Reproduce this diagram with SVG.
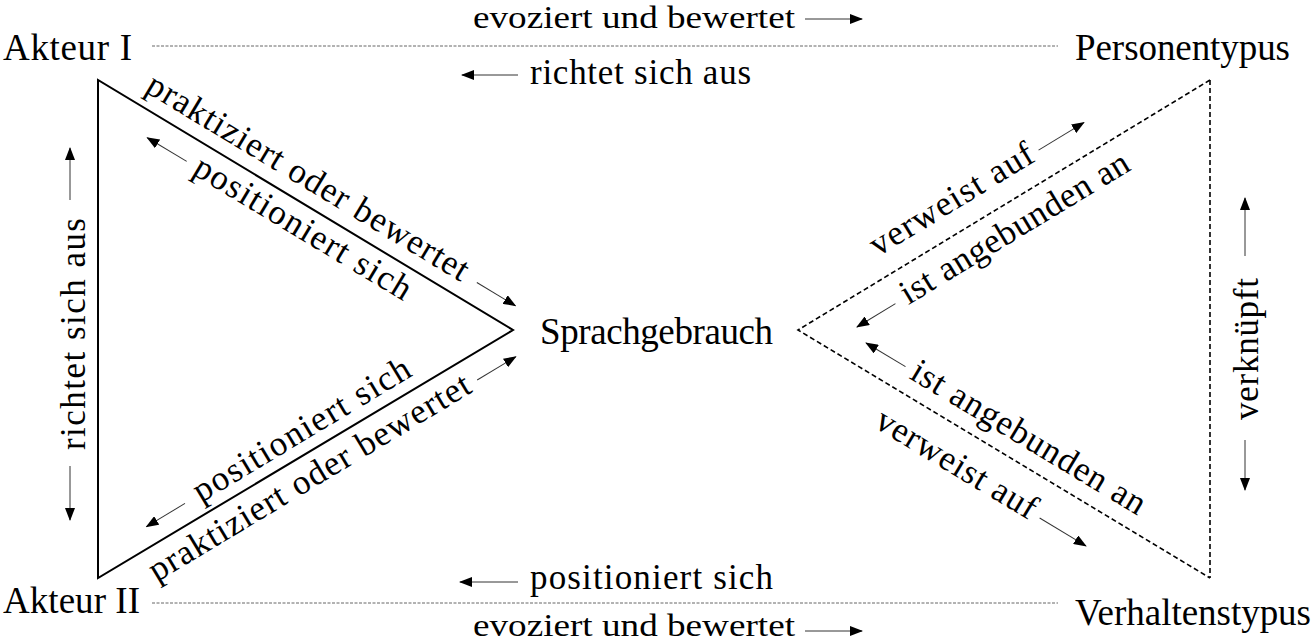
<svg xmlns="http://www.w3.org/2000/svg" width="1313" height="643" viewBox="0 0 1313 643">
<style>
text{font-family:"Liberation Serif","Times New Roman",serif;fill:#000}
.node{font-size:37px}
.lbl{font-size:35px}
.edge{font-size:31px}
.solid{fill:none;stroke:#000;stroke-width:2}
.dash{fill:none;stroke:#000;stroke-width:1.6;stroke-dasharray:5 3}
.dot{fill:none;stroke:#666;stroke-width:1;stroke-dasharray:3 1.5}
.arr{fill:none;stroke:#333;stroke-width:1;marker-end:url(#ah)}
</style>
<defs>
<marker id="ah" markerUnits="userSpaceOnUse" markerWidth="13" markerHeight="10" refX="12" refY="5" orient="auto">
<path d="M0,0 L13,5 L0,10 z" fill="#000"/>
</marker>
</defs>
<g id="connectors">
<polygon id="left-triangle" class="solid" points="98,80 98,578 513,330"/>
<polyline id="right-triangle" class="dash" points="1210,80 798,330 1210,578"/>
<line class="dash" x1="1210" y1="80" x2="1210" y2="578" stroke-dasharray="4 2.5"/>
<line class="dot" x1="152" y1="46" x2="1058" y2="46"/>
<line class="dot" x1="152" y1="603" x2="1058" y2="603"/>
<line class="arr" x1="805" y1="19" x2="862" y2="19"/>
<line class="arr" x1="518" y1="75" x2="462" y2="75"/>
<line class="arr" x1="518" y1="582" x2="460" y2="582"/>
<line class="arr" x1="805" y1="631" x2="862" y2="631"/>
<line class="arr" x1="70" y1="200" x2="70" y2="148"/>
<line class="arr" x1="70" y1="466" x2="70" y2="520"/>
<line class="arr" x1="1245" y1="256" x2="1245" y2="198"/>
<line class="arr" x1="1245" y1="440" x2="1245" y2="490"/>
<g transform="translate(98,80) rotate(31.06)">
<line class="arr" x1="429" y1="-22" x2="474" y2="-22"/>
<line class="arr" x1="118" y1="24" x2="72" y2="24"/>
</g>
<g transform="translate(98,578) rotate(-31.06)">
<line class="arr" x1="113" y1="-19" x2="68" y2="-19"/>
<line class="arr" x1="427" y1="26" x2="472" y2="26"/>
</g>
<g transform="translate(798,330) rotate(-31.25)">
<line class="arr" x1="299" y1="-29" x2="352" y2="-29"/>
<line class="arr" x1="97" y1="28" x2="52" y2="28"/>
</g>
<g transform="translate(798,330) rotate(31.04)">
<line class="arr" x1="111" y1="-24" x2="65" y2="-24"/>
<line class="arr" x1="304" y1="36.5" x2="358" y2="36.5"/>
</g>
</g>
<g id="node-akteur1"><text class="node" x="3" y="60" textLength="129">Akteur I</text></g>
<g id="node-akteur2"><text class="node" x="3" y="613" textLength="137">Akteur II</text></g>
<g id="node-personentypus"><text class="node" x="1075" y="60" textLength="215">Personentypus</text></g>
<g id="node-verhaltenstypus"><text class="node" x="1075" y="625" textLength="236">Verhaltenstypus</text></g>
<g id="node-sprachgebrauch"><text class="node" x="540" y="344" textLength="233">Sprachgebrauch</text></g>
<g id="labels">
<text class="edge" x="473" y="28" textLength="322" lengthAdjust="spacingAndGlyphs">evoziert und bewertet</text>
<text class="lbl" x="530" y="84" textLength="221">richtet sich aus</text>
<text class="lbl" x="530" y="589" textLength="243">positioniert sich</text>
<text class="edge" x="473" y="636" textLength="322" lengthAdjust="spacingAndGlyphs">evoziert und bewertet</text>
<text class="lbl" transform="translate(85,334) rotate(-90)" text-anchor="middle" x="0" y="0" textLength="232">richtet sich aus</text>
<text class="lbl" transform="translate(1258,349) rotate(-90)" text-anchor="middle" x="0" y="0" textLength="142">verknüpft</text>
<g transform="translate(98,80) rotate(31.06)">
<text class="lbl" x="45" y="-14" textLength="370">praktiziert oder bewertet</text>
<text class="lbl" x="128" y="32" textLength="248">positioniert sich</text>
</g>
<g transform="translate(98,578) rotate(-31.06)">
<text class="lbl" x="127" y="-11" textLength="248">positioniert sich</text>
<text class="lbl" x="48" y="34" textLength="370">praktiziert oder bewertet</text>
</g>
<g transform="translate(798,330) rotate(-31.25)">
<text class="lbl" x="106" y="-21" textLength="186">verweist auf</text>
<text class="lbl" x="107" y="36" textLength="262">ist angebunden an</text>
</g>
<g transform="translate(798,330) rotate(31.04)">
<text class="lbl" x="119" y="-16" textLength="268">ist angebunden an</text>
<text class="lbl" x="114" y="44" textLength="182">verweist auf</text>
</g>
</g>
</svg>
